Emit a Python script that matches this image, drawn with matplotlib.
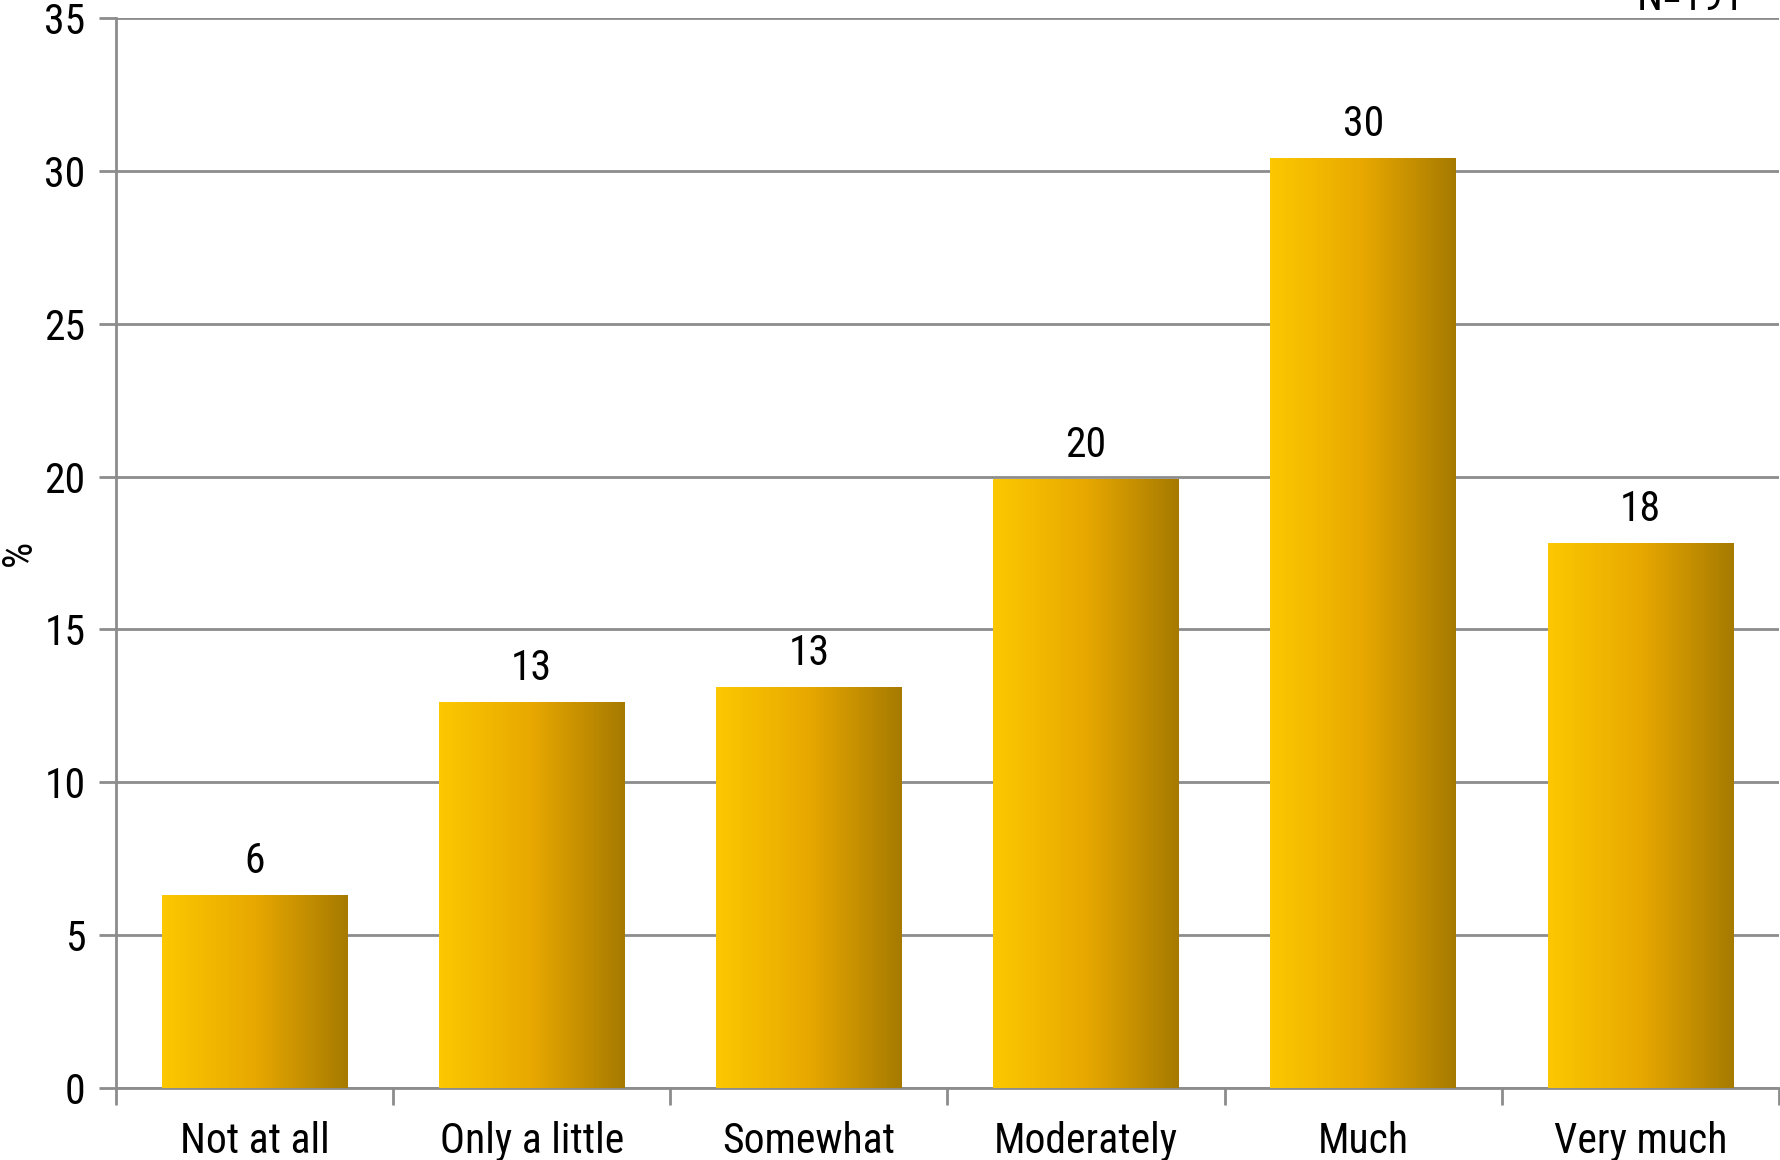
import numpy as np
import matplotlib.pyplot as plt
from matplotlib.colors import LinearSegmentedColormap
from matplotlib import font_manager

categories = ['Not at all', 'Only a little', 'Somewhat', 'Moderately', 'Much', 'Very much']
values = [6.3, 12.6, 13.1, 19.9, 30.4, 17.8]
labels = ['6', '13', '13', '20', '30', '18']
n_text = 'N=191'

# condensed face if there is one, else a narrow-ish sans
names = {f.name for f in font_manager.fontManager.ttflist}
wanted = ['Roboto Condensed', 'Liberation Sans Narrow', 'Open Sans Condensed', 'Roboto']
family = [f for f in wanted if f in names] + ['DejaVu Sans']
plt.rcParams['font.family'] = family
fs = 30

grey = '#8c8c8c'
cmap = LinearSegmentedColormap.from_list('gold', ['#fcc800', '#e8a800', '#a67a00'])
grad = np.linspace(0, 1, 256).reshape(1, -1)

fig = plt.figure(figsize=(17.81, 11.60), dpi=100)
ax = fig.add_axes([116 / 1781, 1 - 1088 / 1160, (1779 - 116) / 1781, (1088 - 18) / 1160])

x = np.arange(len(categories))
width = 0.67
bars = ax.bar(x, values, width=width, color='none', zorder=3)
for b, v, lab in zip(bars, values, labels):
    x0, w = b.get_x(), b.get_width()
    ax.imshow(grad, cmap=cmap, aspect='auto', extent=[x0, x0 + w, 0, v], zorder=3)
    ax.text(x0 + w / 2, v + 0.45, lab, ha='center', va='bottom', fontsize=fs)

ax.set_xlim(-0.5, len(categories) - 0.5)
ax.set_ylim(0, 35)
ax.set_yticks(range(0, 36, 5))
ax.yaxis.grid(True, color=grey, linewidth=2, zorder=0)
ax.set_axisbelow(True)

ax.set_xticks(np.arange(-0.5, len(categories), 1), minor=False)
ax.set_xticklabels([])
ax.set_xticks(x, minor=True)
ax.set_xticklabels(categories, minor=True, fontsize=fs)
ax.tick_params(axis='x', which='minor', length=0, pad=24)
ax.tick_params(axis='x', which='major', length=12, width=2, color=grey)
ax.tick_params(axis='y', length=12, width=2, color=grey, labelsize=fs, pad=10)

for s in ['top', 'right']:
    ax.spines[s].set_visible(False)
for s in ['left', 'bottom']:
    ax.spines[s].set_color(grey)
    ax.spines[s].set_linewidth(2)

ax.set_ylabel('%', fontsize=fs)
ax.yaxis.set_label_coords(-0.046, 0.5)
fig.text(1690 / 1781, 1 - 10 / 1160, n_text, ha='center', va='baseline', fontsize=fs)

fig.savefig('out.png', dpi=100)
